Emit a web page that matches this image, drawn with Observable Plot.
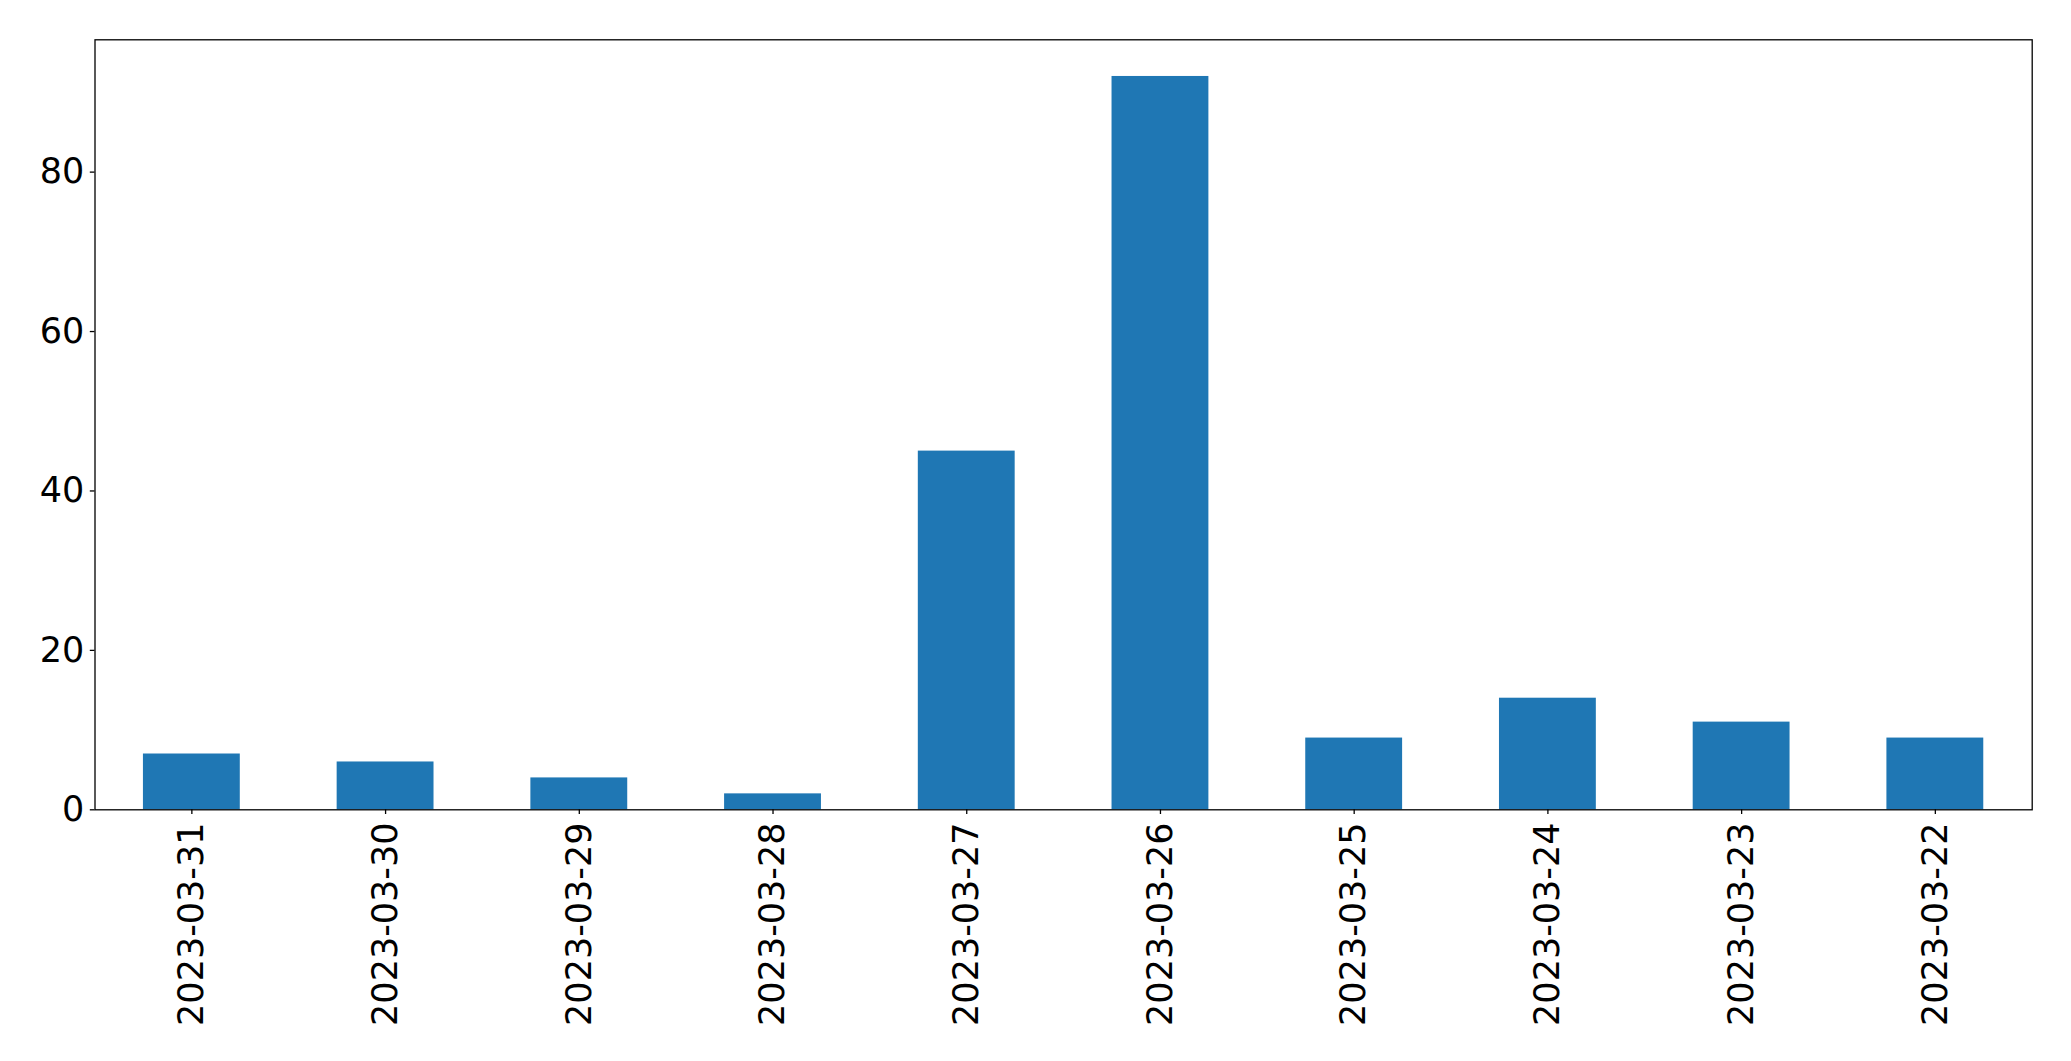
<!DOCTYPE html>
<html>
<head>
<meta charset="utf-8">
<script src="https://cdn.jsdelivr.net/npm/d3@7"></script>
<script src="https://cdn.jsdelivr.net/npm/@observablehq/plot@0.6"></script>
<style>
  html, body { margin: 0; padding: 0; background: #fff; }
  #chart svg { display: block; }
</style>
</head>
<body>
<div id="chart"></div>
<script>
const dates = ["2023-03-31","2023-03-30","2023-03-29","2023-03-28","2023-03-27","2023-03-26","2023-03-25","2023-03-24","2023-03-23","2023-03-22"];
const counts = [7, 6, 4, 2, 45, 92, 9, 14, 11, 9];
const yTicks = [0, 20, 40, 60, 80];

const data = dates.map((d, i) => ({date: d, count: counts[i]}));
const ymax = d3.max(counts) * 1.05;

const chart = Plot.plot({
  width: 2071,
  height: 1061,
  marginLeft: 94.5,
  marginRight: 39.3,
  marginTop: 39.3,
  marginBottom: 251.7,
  style: {fontFamily: "DejaVu Sans", fontSize: "35px", color: "#000", background: "#fff"},
  x: {domain: dates, paddingInner: 0.5, paddingOuter: 0.25, round: false, label: null},
  y: {domain: [0, ymax], label: null},
  marks: [
    Plot.barY(data, {x: "date", y: "count", fill: "#1f77b4"}),
    Plot.frame({stroke: "#000", strokeWidth: 1.3}),
    Plot.axisY({ticks: yTicks, tickSize: 4.7, tickPadding: 6, label: null, fontSize: 35, strokeWidth: 1.3}),
    Plot.axisX({tickRotate: -90, tickSize: 4.7, tickPadding: 8, label: null, fontSize: 35, strokeWidth: 1.3})
  ]
});
document.getElementById("chart").appendChild(chart);
</script>
</body>
</html>
